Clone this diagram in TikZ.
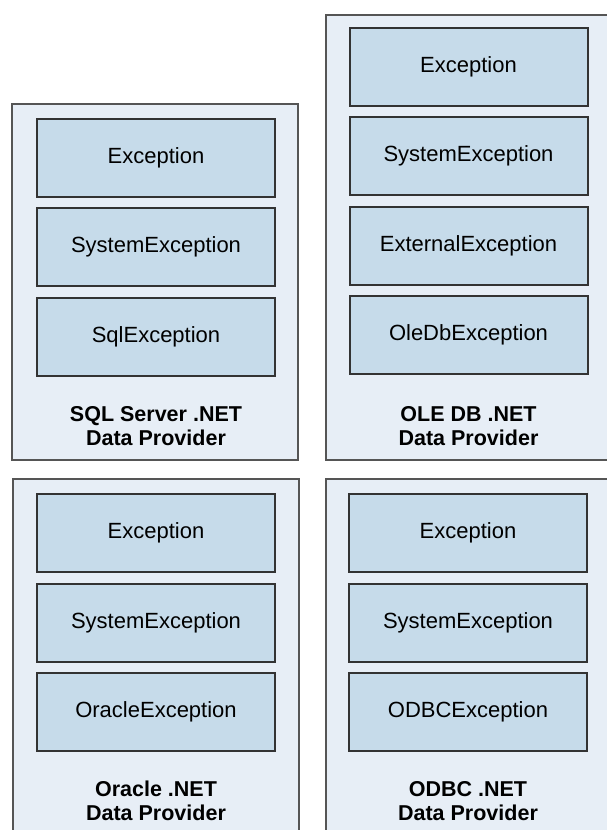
\documentclass[tikz,border=0pt]{standalone}
\usepackage{fontspec}
\setmainfont{Liberation Sans}
\definecolor{panelfill}{HTML}{E7EEF6}
\definecolor{boxfill}{HTML}{C6DBEA}
\definecolor{panelline}{HTML}{555555}
\definecolor{boxline}{HTML}{333333}
\begin{document}
\begin{tikzpicture}[x=1pt,y=-1pt,
  panel/.style={draw=panelline, line width=2pt, fill=panelfill, inner sep=0pt, anchor=north west},
  exbox/.style={draw=boxline, line width=2pt, fill=boxfill, minimum width=238pt, minimum height=78pt, inner sep=0pt, font=\fontsize{22}{24}\selectfont},
  plabel/.style={align=center, inner sep=0pt, font=\bfseries\fontsize{21.5}{24}\selectfont}]
\useasboundingbox (0,0) rectangle (607,830);
\clip (0,0) rectangle (607,830);
\fill[white] (0,0) rectangle (607,830);
% panels
\node[panel, minimum width=286pt, minimum height=356pt] (p1) at (11,103) {};
\node[panel, minimum width=300pt, minimum height=445pt] (p2) at (325,14) {};
\node[panel, minimum width=286pt, minimum height=380pt] (p3) at (12,478) {};
\node[panel, minimum width=300pt, minimum height=380pt] (p4) at (325,478) {};
% SQL Server
\node[exbox] (a1) at (156,157.5) {Exception};
\node[exbox] (a2) at (156,247) {SystemException};
\node[exbox] (a3) at (156,336.5) {SqlException};
\node[plabel] (al) at (156,426) {SQL Server .NET\\Data Provider};
% OLE DB
\node[exbox] (b1) at (468.5,67) {Exception};
\node[exbox] (b2) at (468.5,156) {SystemException};
\node[exbox] (b3) at (468.5,246) {ExternalException};
\node[exbox] (b4) at (468.5,335) {OleDbException};
\node[plabel] (bl) at (468.5,426) {OLE DB .NET\\Data Provider};
% Oracle
\node[exbox] (c1) at (156,533) {Exception};
\node[exbox] (c2) at (156,623) {SystemException};
\node[exbox] (c3) at (156,712) {OracleException};
\node[plabel] (cl) at (156,801) {Oracle .NET\\Data Provider};
% ODBC
\node[exbox] (d1) at (468,533) {Exception};
\node[exbox] (d2) at (468,623) {SystemException};
\node[exbox] (d3) at (468,711.5) {ODBCException};
\node[plabel] (dl) at (468,801) {ODBC .NET\\Data Provider};
\end{tikzpicture}
\end{document}
